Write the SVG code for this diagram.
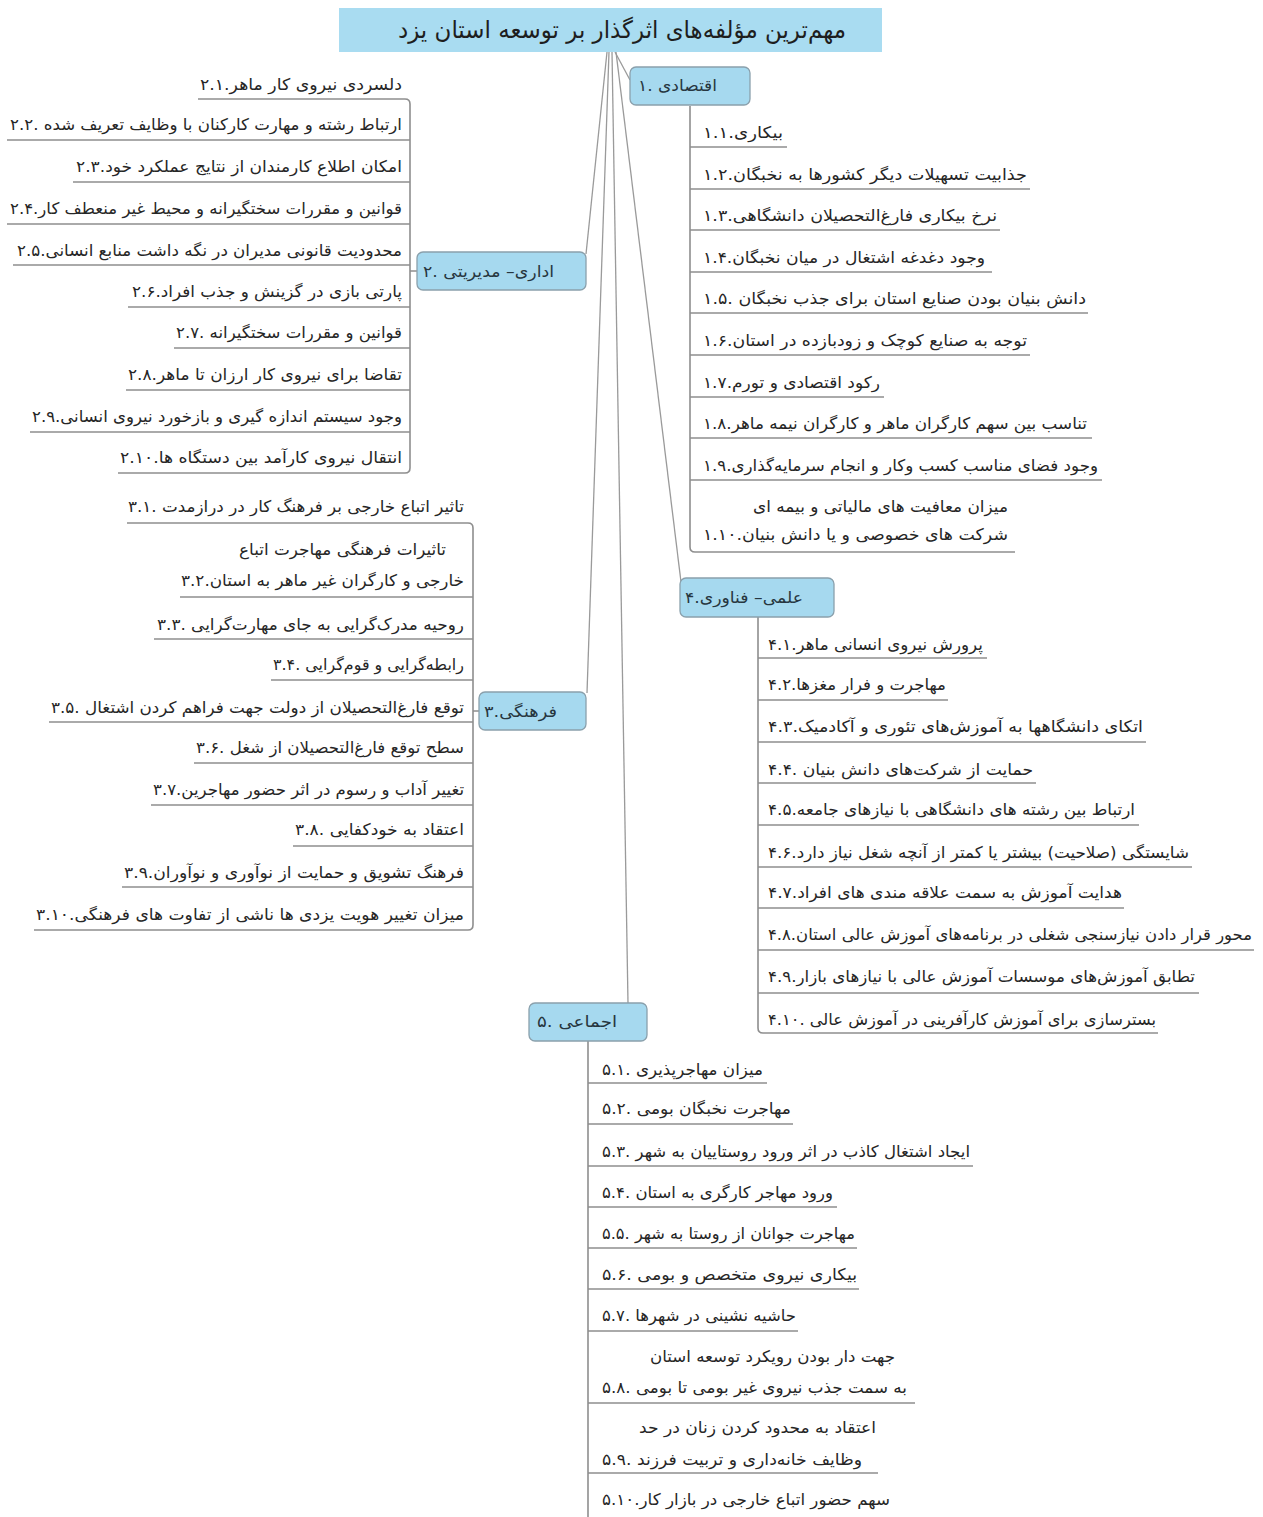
<svg xmlns="http://www.w3.org/2000/svg" width="1263" height="1517" viewBox="0 0 1263 1517">
<style>
.bg{fill:#ffffff}
.t{font-family:"DejaVu Sans",sans-serif;font-size:16px;fill:#262626}
.tl{font-family:"DejaVu Sans",sans-serif;font-size:24px;fill:#1e1e1e}
.nt{font-family:"DejaVu Sans",sans-serif;font-size:16px;fill:#263640}
.ul{stroke:#8e8e8e;stroke-width:1.6;fill:none}
.nb{fill:#a6d9ef;stroke:#8aa0ac;stroke-width:1.3}
.ttl{fill:#a9dcf1}
.c{stroke:#9a9a9a;stroke-width:1.3;fill:none}
.br{stroke:#8e8e8e;stroke-width:1.6;fill:none}
</style>
<rect class="bg" x="0" y="0" width="1263" height="1517"/>

<g id="connectors">
<path class="c" d="M615,52 L630,80"/>
<path class="c" d="M607,52 L586,254"/>
<path class="c" d="M609,52 L587,693"/>
<path class="c" d="M616,52 L681,582"/>
<path class="c" d="M612,52 L628,1003"/>
<path class="br" d="M690,106 V547 Q690,552 695,552"/>
<path class="br" d="M405,99 Q410,99 410,104 V468 Q410,473 405,473 M410,271 H417"/>
<path class="br" d="M468,523 Q473,523 473,528 V925 Q473,930 468,930 M473,711 H479"/>
<path class="br" d="M758,617 V1028 Q758,1033 763,1033"/>
<path class="br" d="M588,1041 V1517"/>
</g>

<g id="title">
<rect class="ttl" x="339" y="8" width="543" height="44"/>
<text class="tl" x="398" y="38" textLength="448" lengthAdjust="spacingAndGlyphs">مهم‌ترین مؤلفه‌های اثرگذار بر توسعه استان یزد</text>
</g>

<g id="node1">
<rect class="nb" x="630" y="67" width="120" height="38" rx="6"/>
<text class="nt" x="638" y="91" textLength="79" lengthAdjust="spacingAndGlyphs">اقتصادی .۱</text>
</g>
<g id="node2">
<rect class="nb" x="417" y="252" width="169" height="38" rx="6"/>
<text class="nt" x="423" y="277" textLength="131" lengthAdjust="spacingAndGlyphs">اداری– مدیریتی .۲</text>
</g>
<g id="node3">
<rect class="nb" x="479" y="692" width="107" height="38" rx="6"/>
<text class="nt" x="484" y="717" textLength="73" lengthAdjust="spacingAndGlyphs">فرهنگی.۳</text>
</g>
<g id="node4">
<rect class="nb" x="680" y="578" width="154" height="39" rx="6"/>
<text class="nt" x="685" y="603" textLength="118" lengthAdjust="spacingAndGlyphs">علمی– فناوری.۴</text>
</g>
<g id="node5">
<rect class="nb" x="529" y="1003" width="118" height="38" rx="6"/>
<text class="nt" x="537" y="1027" textLength="80" lengthAdjust="spacingAndGlyphs">اجماعی .۵</text>
</g>

<!-- branch 1 -->
<g id="n1-1"><text class="t" x="703" y="138" textLength="80" lengthAdjust="spacingAndGlyphs">بیکاری.۱.۱</text><path class="ul" d="M690,147 H787"/></g>
<g id="n1-2"><text class="t" x="703" y="180" textLength="324" lengthAdjust="spacingAndGlyphs">جذابیت تسهیلات دیگر کشورها به نخبگان.۱.۲</text><path class="ul" d="M690,189 H1030"/></g>
<g id="n1-3"><text class="t" x="703" y="221" textLength="294" lengthAdjust="spacingAndGlyphs">نرخ بیکاری فارغ‌التحصیلان دانشگاهی.۱.۳</text><path class="ul" d="M690,230 H1000"/></g>
<g id="n1-4"><text class="t" x="703" y="263" textLength="282" lengthAdjust="spacingAndGlyphs">وجود دغدغه اشتغال در میان نخبگان.۱.۴</text><path class="ul" d="M690,272 H992"/></g>
<g id="n1-5"><text class="t" x="703" y="304" textLength="383" lengthAdjust="spacingAndGlyphs">دانش بنیان بودن صنایع استان برای جذب نخبگان .۱.۵</text><path class="ul" d="M690,313 H1088"/></g>
<g id="n1-6"><text class="t" x="703" y="346" textLength="324" lengthAdjust="spacingAndGlyphs">توجه به صنایع کوچک و زودبازده در استان.۱.۶</text><path class="ul" d="M690,355 H1030"/></g>
<g id="n1-7"><text class="t" x="703" y="388" textLength="177" lengthAdjust="spacingAndGlyphs">رکود اقتصادی و تورم.۱.۷</text><path class="ul" d="M690,397 H884"/></g>
<g id="n1-8"><text class="t" x="703" y="429" textLength="384" lengthAdjust="spacingAndGlyphs">تناسب بین سهم کارگران ماهر و کارگران نیمه ماهر.۱.۸</text><path class="ul" d="M690,438 H1092"/></g>
<g id="n1-9"><text class="t" x="703" y="471" textLength="395" lengthAdjust="spacingAndGlyphs">وجود فضای مناسب کسب وکار و انجام سرمایه‌گذاری.۱.۹</text><path class="ul" d="M690,480 H1102"/></g>
<g id="n1-10"><text class="t" x="753" y="512" textLength="255" lengthAdjust="spacingAndGlyphs">میزان معافیت های مالیاتی و بیمه ای</text><text class="t" x="703" y="540" textLength="305" lengthAdjust="spacingAndGlyphs">شرکت های خصوصی و یا دانش بنیان.۱.۱۰</text><path class="ul" d="M695,552 H1015"/></g>

<!-- branch 2 -->
<g id="n2-1"><text class="t" x="402" y="90" text-anchor="end" textLength="202" lengthAdjust="spacingAndGlyphs">دلسردی نیروی کار ماهر.۲.۱</text><path class="ul" d="M198,99 H405"/></g>
<g id="n2-2"><text class="t" x="402" y="130" text-anchor="end" textLength="392" lengthAdjust="spacingAndGlyphs">ارتباط رشته و مهارت کارکنان با وظایف تعریف شده .۲.۲</text><path class="ul" d="M7,140 H410"/></g>
<g id="n2-3"><text class="t" x="402" y="172" text-anchor="end" textLength="326" lengthAdjust="spacingAndGlyphs">امکان اطلاع کارمندان از نتایج عملکرد خود.۲.۳</text><path class="ul" d="M73,182 H410"/></g>
<g id="n2-4"><text class="t" x="402" y="214" text-anchor="end" textLength="392" lengthAdjust="spacingAndGlyphs">قوانین و مقررات سختگیرانه و محیط غیر منعطف کار.۲.۴</text><path class="ul" d="M7,224 H410"/></g>
<g id="n2-5"><text class="t" x="402" y="256" text-anchor="end" textLength="385" lengthAdjust="spacingAndGlyphs">محدودیت قانونی مدیران در نگه داشت منابع انسانی.۲.۵</text><path class="ul" d="M13,265 H410"/></g>
<g id="n2-6"><text class="t" x="402" y="297" text-anchor="end" textLength="270" lengthAdjust="spacingAndGlyphs">پارتی بازی در گزینش و جذب افراد.۲.۶</text><path class="ul" d="M128,307 H410"/></g>
<g id="n2-7"><text class="t" x="402" y="338" text-anchor="end" textLength="226" lengthAdjust="spacingAndGlyphs">قوانین و مقررات سختگیرانه .۲.۷</text><path class="ul" d="M174,348 H410"/></g>
<g id="n2-8"><text class="t" x="402" y="380" text-anchor="end" textLength="274" lengthAdjust="spacingAndGlyphs">تقاضا برای نیروی کار ارزان تا ماهر.۲.۸</text><path class="ul" d="M126,390 H410"/></g>
<g id="n2-9"><text class="t" x="402" y="422" text-anchor="end" textLength="370" lengthAdjust="spacingAndGlyphs">وجود سیستم اندازه گیری و بازخورد نیروی انسانی.۲.۹</text><path class="ul" d="M30,432 H410"/></g>
<g id="n2-10"><text class="t" x="402" y="463" text-anchor="end" textLength="282" lengthAdjust="spacingAndGlyphs">انتقال نیروی کارآمد بین دستگاه ها.۲.۱۰</text><path class="ul" d="M118,473 H405"/></g>

<!-- branch 3 -->
<g id="n3-1"><text class="t" x="464" y="512" text-anchor="end" textLength="336" lengthAdjust="spacingAndGlyphs">تاثیر اتباع خارجی بر فرهنگ کار در درازمدت .۳.۱</text><path class="ul" d="M127,523 H468"/></g>
<g id="n3-2"><text class="t" x="446" y="555" text-anchor="end" textLength="207" lengthAdjust="spacingAndGlyphs">تاثیرات فرهنگی مهاجرت اتباع</text><text class="t" x="464" y="586" text-anchor="end" textLength="283" lengthAdjust="spacingAndGlyphs">خارجی و کارگران غیر ماهر به استان.۳.۲</text><path class="ul" d="M180,597 H473"/></g>
<g id="n3-3"><text class="t" x="464" y="630" text-anchor="end" textLength="307" lengthAdjust="spacingAndGlyphs">روحیه مدرک‌گرایی به جای مهارت‌گرایی .۳.۳</text><path class="ul" d="M154,639 H473"/></g>
<g id="n3-4"><text class="t" x="464" y="670" text-anchor="end" textLength="191" lengthAdjust="spacingAndGlyphs">رابطه‌گرایی و قوم‌گرایی .۳.۴</text><path class="ul" d="M271,680 H473"/></g>
<g id="n3-5"><text class="t" x="464" y="713" text-anchor="end" textLength="413" lengthAdjust="spacingAndGlyphs">توقع فارغ‌التحصیلان از دولت جهت فراهم کردن اشتغال .۳.۵</text><path class="ul" d="M49,722 H473"/></g>
<g id="n3-6"><text class="t" x="464" y="753" text-anchor="end" textLength="268" lengthAdjust="spacingAndGlyphs">سطح توقع فارغ‌التحصیلان از شغل .۳.۶</text><path class="ul" d="M194,763 H473"/></g>
<g id="n3-7"><text class="t" x="464" y="795" text-anchor="end" textLength="311" lengthAdjust="spacingAndGlyphs">تغییر آداب و رسوم در اثر حضور مهاجرین.۳.۷</text><path class="ul" d="M151,805 H473"/></g>
<g id="n3-8"><text class="t" x="464" y="835" text-anchor="end" textLength="169" lengthAdjust="spacingAndGlyphs">اعتقاد به خودکفایی .۳.۸</text><path class="ul" d="M293,846 H473"/></g>
<g id="n3-9"><text class="t" x="464" y="878" text-anchor="end" textLength="340" lengthAdjust="spacingAndGlyphs">فرهنگ تشویق و حمایت از نوآوری و نوآوران.۳.۹</text><path class="ul" d="M122,887 H473"/></g>
<g id="n3-10"><text class="t" x="464" y="920" text-anchor="end" textLength="428" lengthAdjust="spacingAndGlyphs">میزان تغییر هویت یزدی ها ناشی از تفاوت های فرهنگی.۳.۱۰</text><path class="ul" d="M34,930 H468"/></g>

<!-- branch 4 -->
<g id="n4-1"><text class="t" x="768" y="650" textLength="215" lengthAdjust="spacingAndGlyphs">پرورش نیروی انسانی ماهر.۴.۱</text><path class="ul" d="M758,658 H987"/></g>
<g id="n4-2"><text class="t" x="768" y="690" textLength="178" lengthAdjust="spacingAndGlyphs">مهاجرت و فرار مغزها.۴.۲</text><path class="ul" d="M758,700 H948"/></g>
<g id="n4-3"><text class="t" x="768" y="732" textLength="375" lengthAdjust="spacingAndGlyphs">اتکای دانشگاهها به آموزش‌های تئوری و آکادمیک.۴.۳</text><path class="ul" d="M758,742 H1146"/></g>
<g id="n4-4"><text class="t" x="768" y="775" textLength="265" lengthAdjust="spacingAndGlyphs">حمایت از شرکت‌های دانش بنیان .۴.۴</text><path class="ul" d="M758,783 H1036"/></g>
<g id="n4-5"><text class="t" x="768" y="815" textLength="367" lengthAdjust="spacingAndGlyphs">ارتباط بین رشته های دانشگاهی با نیازهای جامعه.۴.۵</text><path class="ul" d="M758,825 H1139"/></g>
<g id="n4-6"><text class="t" x="768" y="858" textLength="421" lengthAdjust="spacingAndGlyphs">شایستگی (صلاحیت) بیشتر یا کمتر از آنچه شغل نیاز دارد.۴.۶</text><path class="ul" d="M758,867 H1192"/></g>
<g id="n4-7"><text class="t" x="768" y="898" textLength="354" lengthAdjust="spacingAndGlyphs">هدایت آموزش به سمت علاقه مندی های افراد.۴.۷</text><path class="ul" d="M758,908 H1124"/></g>
<g id="n4-8"><text class="t" x="768" y="940" textLength="484" lengthAdjust="spacingAndGlyphs">محور قرار دادن نیازسنجی شغلی در برنامه‌های آموزش عالی استان.۴.۸</text><path class="ul" d="M758,950 H1254"/></g>
<g id="n4-9"><text class="t" x="768" y="982" textLength="427" lengthAdjust="spacingAndGlyphs">تطابق آموزش‌های موسسات آموزش عالی با نیازهای بازار.۴.۹</text><path class="ul" d="M758,993 H1199"/></g>
<g id="n4-10"><text class="t" x="768" y="1025" textLength="388" lengthAdjust="spacingAndGlyphs">بسترسازی برای آموزش کارآفرینی در آموزش عالی .۴.۱۰</text><path class="ul" d="M763,1033 H1158"/></g>

<!-- branch 5 -->
<g id="n5-1"><text class="t" x="602" y="1075" textLength="161" lengthAdjust="spacingAndGlyphs">میزان مهاجرپذیری .۵.۱</text><path class="ul" d="M588,1083 H767"/></g>
<g id="n5-2"><text class="t" x="602" y="1114" textLength="189" lengthAdjust="spacingAndGlyphs">مهاجرت نخبگان بومی .۵.۲</text><path class="ul" d="M588,1124 H793"/></g>
<g id="n5-3"><text class="t" x="602" y="1157" textLength="368" lengthAdjust="spacingAndGlyphs">ایجاد اشتغال کاذب در اثر ورود روستاییان به شهر .۵.۳</text><path class="ul" d="M588,1166 H973"/></g>
<g id="n5-4"><text class="t" x="602" y="1198" textLength="231" lengthAdjust="spacingAndGlyphs">ورود مهاجر کارگری به استان .۵.۴</text><path class="ul" d="M588,1207 H837"/></g>
<g id="n5-5"><text class="t" x="602" y="1239" textLength="253" lengthAdjust="spacingAndGlyphs">مهاجرت جوانان از روستا به شهر .۵.۵</text><path class="ul" d="M588,1248 H857"/></g>
<g id="n5-6"><text class="t" x="602" y="1280" textLength="255" lengthAdjust="spacingAndGlyphs">بیکاری نیروی متخصص و بومی .۵.۶</text><path class="ul" d="M588,1289 H859"/></g>
<g id="n5-7"><text class="t" x="602" y="1321" textLength="194" lengthAdjust="spacingAndGlyphs">حاشیه نشینی در شهرها .۵.۷</text><path class="ul" d="M588,1331 H798"/></g>
<g id="n5-8"><text class="t" x="650" y="1362" textLength="245" lengthAdjust="spacingAndGlyphs">جهت دار بودن رویکرد توسعه استان</text><text class="t" x="602" y="1393" textLength="305" lengthAdjust="spacingAndGlyphs">به سمت جذب نیروی غیر بومی تا بومی .۵.۸</text><path class="ul" d="M588,1403 H915"/></g>
<g id="n5-9"><text class="t" x="639" y="1433" textLength="237" lengthAdjust="spacingAndGlyphs">اعتقاد به محدود کردن زنان در حد</text><text class="t" x="602" y="1465" textLength="260" lengthAdjust="spacingAndGlyphs">وظایف خانه‌داری و تربیت فرزند .۵.۹</text><path class="ul" d="M588,1473 H878"/></g>
<g id="n5-10"><text class="t" x="602" y="1505" textLength="288" lengthAdjust="spacingAndGlyphs">سهم حضور اتباع خارجی در بازار کار.۵.۱۰</text></g>
</svg>
